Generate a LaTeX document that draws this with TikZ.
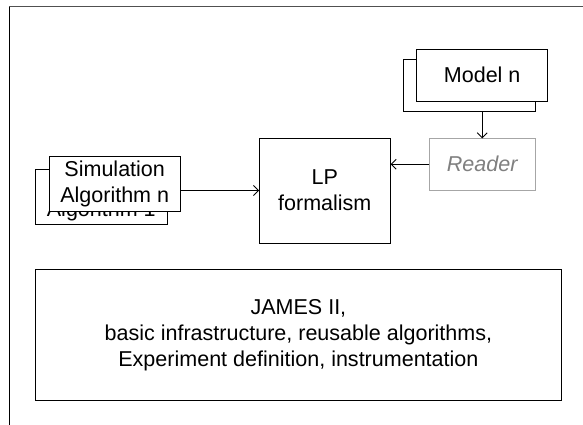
\documentclass[tikz,border=0pt]{standalone}
\usepackage{fontspec}
\setmainfont{Liberation Sans}
\usetikzlibrary{arrows.meta}
\definecolor{framegray}{HTML}{505050}
\definecolor{readerline}{HTML}{A6A6A6}
\definecolor{readertext}{HTML}{808080}
\tikzset{
  box/.style={draw=black, line width=0.9bp, fill=white, inner sep=0pt, outer sep=0pt,
              align=center, font=\fontsize{21.6}{26}\selectfont},
  flow/.style={draw=black, line width=0.9bp, -{Straight Barb[length=5bp,width=10bp]}}
}
\begin{document}
\begin{tikzpicture}[x=1bp, y=-1bp]
  \useasboundingbox (0,0) rectangle (583,424);
  % outer frame (only top and left edges fall inside the page)
  \draw[framegray, line width=1.8bp] (9.2,6.5) -- (600,6.5);
  \draw[black, line width=1bp] (9.2,6.5) -- (9.2,440);

  % stacked model boxes
  \node[box, minimum width=131.7bp, minimum height=52.4bp] (modelB) at (469.2,85.5) {};
  \node[box, minimum width=131bp, minimum height=52bp] (modelF) at (482.2,75) {Model n};

  % reader
  \node[box, draw=readerline, text=readertext, font=\fontsize{21.6}{26}\selectfont\itshape,
        minimum width=105.7bp, minimum height=51.7bp] (reader) at (482.2,164.2) {Reader};

  % formalism
  \node[box, minimum width=131.5bp, minimum height=105bp] (lp) at (324.8,190.5) {LP\\formalism};

  % stacked simulation algorithm boxes
  \node[box, minimum width=131.3bp, minimum height=55bp] (simB) at (101.3,196.8) {};
  \node[anchor=base, inner sep=0pt, font=\fontsize{21.6}{26}\selectfont] (simBtext) at (101.3,216.5) {Algorithm 1};
  \node[box, minimum width=131.3bp, minimum height=55bp] (simF) at (114.7,184.2) {Simulation\\Algorithm n};

  % framework box
  \node[box, minimum width=525.6bp, minimum height=131bp] (james) at (298.4,335.3)
    {JAMES II,\\basic infrastructure, reusable algorithms,\\Experiment definition, instrumentation};

  % connectors
  \draw[flow] (reader.north |- modelB.south) -- (reader.north);
  \draw[flow] (reader.west) -- (lp.east |- reader.west);
  \draw[flow] (simF.east |- lp.west) -- (lp.west);
\end{tikzpicture}
\end{document}
